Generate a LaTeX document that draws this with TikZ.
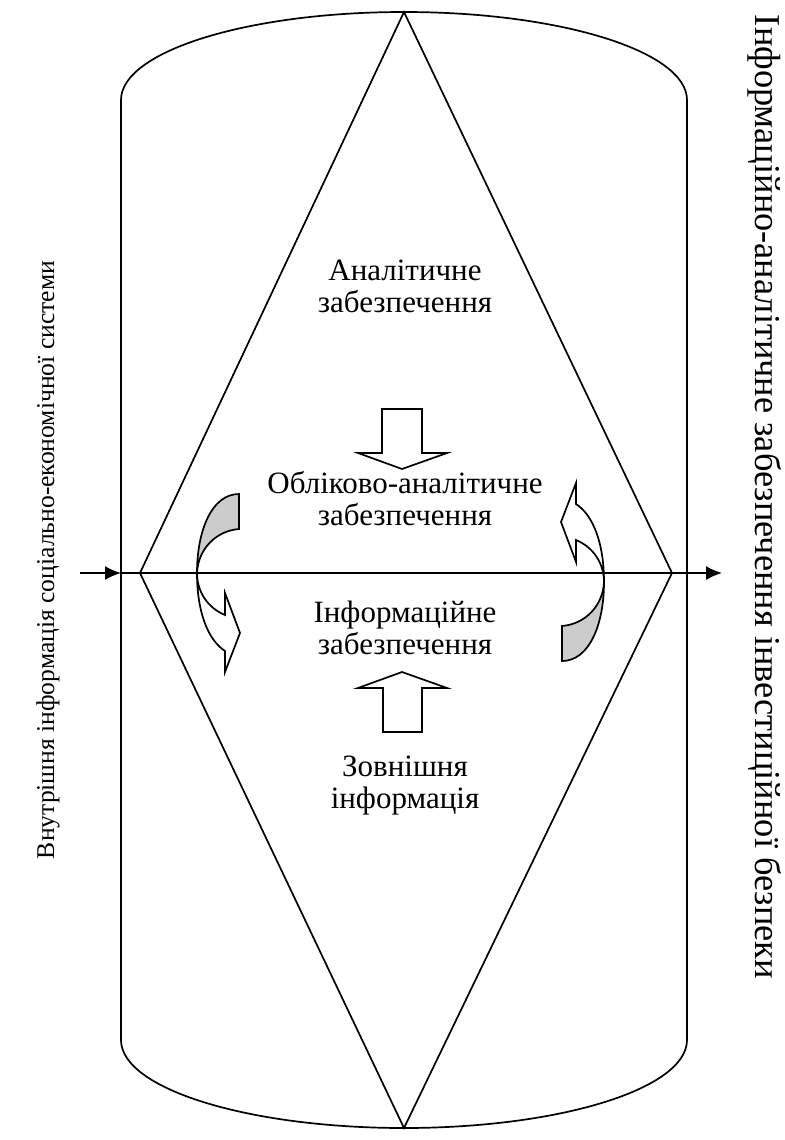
\documentclass[tikz,border=0pt]{standalone}
\usepackage{fontspec}
\setmainfont{Liberation Serif}
\usetikzlibrary{arrows.meta}
\definecolor{gray1}{rgb}{0.8,0.8,0.8}

\begin{document}
\begin{tikzpicture}[>={Latex[length=8pt,width=7pt]},x=0.5pt,y=-0.5pt,line width=0.85pt,
    txt/.style={font=\fontsize{15.5}{16}\selectfont,align=center,inner sep=0pt}]
    \path (0,0) rectangle (784,1140);
    \draw (121,1040) -- (121,100) arc[start angle=180,end angle=360,x radius=283,y radius=88]
      -- (687,1040) arc[start angle=0,end angle=180,x radius=283,y radius=88] -- cycle;
    \coordinate (dtop) at (404,12);
    \coordinate (dleft) at (140,573);
    \coordinate (dbot) at (404,1128);
    \coordinate (dright) at (672,573);
    \draw (dtop) -- (dleft) -- (dbot) -- (dright) -- cycle;
    \coordinate (inL) at (80,573);
    \coordinate (bodyL) at (121,573);
    \coordinate (bodyR) at (687,573);
    \coordinate (outR) at (722,573);
    \draw[->] (inL) -- (bodyL);
    \draw (bodyL) -- (bodyR);
    \draw[->] (bodyR) -- (outR);

    \node[txt] (anal) at (405,286) {Аналітичне\\забезпечення};
    \node[txt] (oblik) at (405,499) {Обліково-аналітичне\\забезпечення};
    \node[txt] (inform) at (405,628) {Інформаційне\\забезпечення};
    \node[txt] (zovn) at (405,786) {Зовнішня\\інформація};
    \node[txt,font=\fontsize{12.8}{15}\selectfont,rotate=90] (vnutr) at (48,560) {Внутрішня інформація соціально-економічної системи};
    \node[txt,font=\fontsize{18.2}{20}\selectfont,rotate=-90] (invest) at (765,497) {Інформаційно-аналітичне забезпечення інвестиційної безпеки};

    \draw (382,409) --++ (40,0) --++ (0,44) --++ (25,0) --++ (-45,16) --++ (-44,-16) --++ (24,0) -- cycle;
    \draw (383,732) --++ (0,-44) --++ (-25,0) --++ (44,-16) --++ (45,16) --++ (-25,0) --++ (0,44) -- cycle;

    \foreach \a in {0,180}{
      \begin{scope}[rotate around={\a:(400.5,577.5)}]
        \filldraw[fill=gray1] (239,494) .. controls (212,494) and (197,530) .. (197,573)
          .. controls (198,550) and (215,531) .. (239,529) -- cycle;
        \filldraw[fill=white] (197,573) .. controls (197,592) and (208,608) .. (225,615)
          -- (225,593) -- (240,633) -- (225,672) -- (225,651)
          .. controls (208,640) and (197,612) .. (197,573) -- cycle;
      \end{scope}
    }
  \end{tikzpicture}
\end{document}
